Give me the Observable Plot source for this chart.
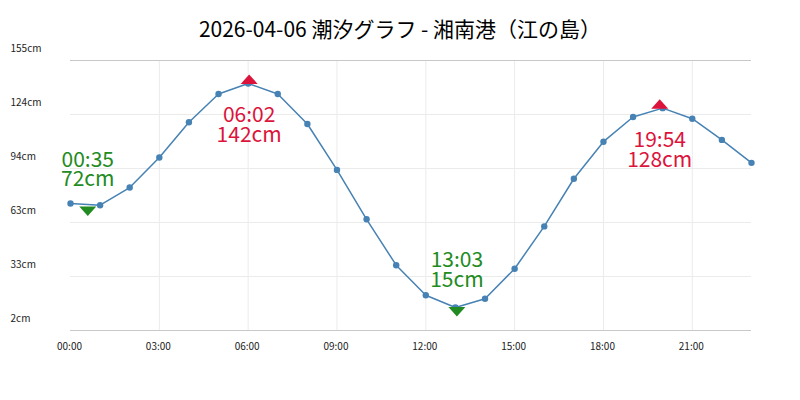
<!DOCTYPE html>
<html><head><meta charset="utf-8">
<script src="https://cdn.jsdelivr.net/npm/d3@7"></script>
<script src="https://cdn.jsdelivr.net/npm/@observablehq/plot@0.6"></script>
<style>
body{margin:0;background:#fff;font-family:"Noto Sans CJK JP",sans-serif;}
#title{height:30px;box-sizing:border-box;padding-top:17px;line-height:22px;font-size:21px;text-align:center;color:#000;white-space:nowrap;overflow:visible;position:relative;z-index:1;}
#chart svg{display:block;background:transparent;}
</style></head><body>
<div id="title">2026-04-06 潮汐グラフ - 湘南港（江の島）</div>
<div id="chart"></div>
<script>
// hourly tide levels (cm)
const hours = [0,1,2,3,4,5,6,7,8,9,10,11,12,13,14,15,16,17,18,19,20,21,22,23];
const levels = [74,73,83,100,120,136,142,136,119,93,65,39,22,15,20,37,61,88,109,123,128,122,110,97];

// extremes
const extLabels = ["00:35","06:02","13:03","19:54"];
const extHours = [0+35/60, 6+2/60, 13+3/60, 19+54/60];
const extLevels = [72,142,15,128];
const extTypes = ["low","high","low","high"];

// axis ticks
const xTickValues = [0,3,6,9,12,15,18,21];
const xTickLabels = ["00:00","03:00","06:00","09:00","12:00","15:00","18:00","21:00"];
const yTickValues = [2,32.6,63.2,93.8,124.4,155];
const yTickLabels = ["2cm","33cm","63cm","94cm","124cm","155cm"];

const series = hours.map((h,i)=>({h, v: levels[i]}));
const extremes = extLabels.map((t,i)=>({h: extHours[i], v: extLevels[i], type: extTypes[i], label: `${t}\n${extLevels[i]}cm`}));
const lows = extremes.filter(d=>d.type==="low");
const highs = extremes.filter(d=>d.type==="high");
const xTicks = xTickValues.map((v,i)=>({v, label: xTickLabels[i]}));
const yTicks = yTickValues.map((v,i)=>({v, label: yTickLabels[i]}));

const triDown = {draw(ctx){ctx.moveTo(-8.5,-0.5);ctx.lineTo(8.5,-0.5);ctx.lineTo(0,9);ctx.closePath();}};
const triUp = {draw(ctx){ctx.moveTo(-8.5,0.5);ctx.lineTo(8.5,0.5);ctx.lineTo(0,-9);ctx.closePath();}};

const green = "#228B22", red = "#DC143C", blue = "#4682B4";

const chart = Plot.plot({
  width: 800, height: 370,
  marginLeft: 70, marginRight: 49, marginTop: 30, marginBottom: 70,
  style: {fontFamily: '"Noto Sans CJK JP", sans-serif', background: "transparent"},
  x: {domain: [0,23], axis: null},
  y: {domain: [2,155], axis: null},
  marks: [
    Plot.ruleY(yTicks.slice(1,-1), {y: "v", stroke: "#ebebeb", strokeWidth: 1}),
    Plot.ruleX(xTicks.filter(d=>d.v>0), {x: "v", stroke: "#ebebeb", strokeWidth: 1}),
    Plot.ruleY([yTickValues[0], yTickValues[yTickValues.length-1]], {stroke: "#c8c8c8", strokeWidth: 1}),
    Plot.text(yTicks, {y: "v", text: "label", frameAnchor: "left", textAnchor: "start", lineAnchor: "bottom", dx: -60, dy: -8.5, fontSize: 10, fill: "#222"}),
    Plot.text(xTicks, {x: "v", text: "label", frameAnchor: "bottom", lineAnchor: "top", dx: -1, dy: 12, fontSize: 10, fill: "#222"}),
    Plot.line(series, {x: "h", y: "v", stroke: blue, strokeWidth: 1.5}),
    Plot.dot(series, {x: "h", y: "v", r: 3.2, fill: blue, stroke: null}),
    Plot.dot(lows, {x: "h", y: "v", symbol: triDown, fill: green, stroke: null}),
    Plot.dot(highs, {x: "h", y: "v", symbol: triUp, fill: red, stroke: null}),
    Plot.text(lows, {x: "h", y: "v", text: "label", fill: green, fontSize: 21, lineHeight: 0.95, lineAnchor: "bottom", dy: -20.5}),
    Plot.text(highs, {x: "h", y: "v", text: "label", fill: red, fontSize: 21, lineHeight: 0.95, lineAnchor: "top", dy: 24.4})
  ]
});
document.getElementById("chart").appendChild(chart);
</script>
</body></html>
